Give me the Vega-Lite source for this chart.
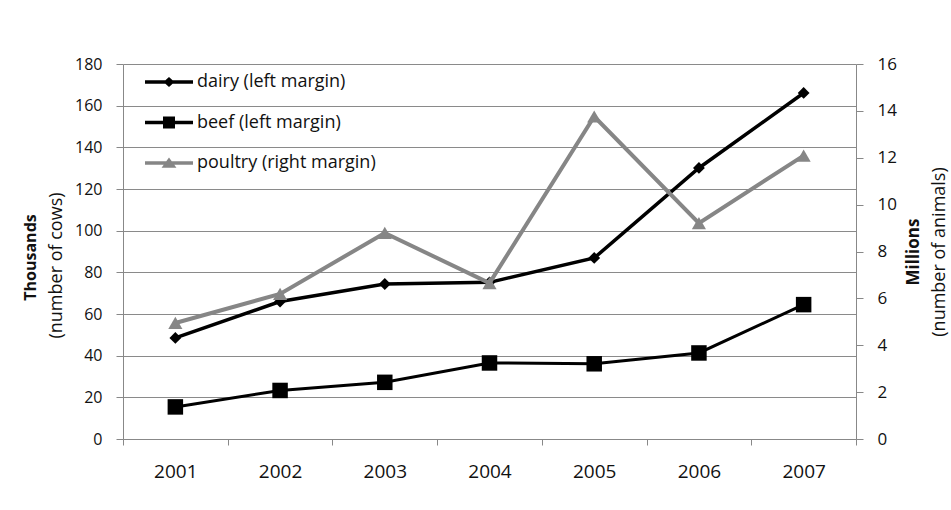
{
  "$schema": "https://vega.github.io/schema/vega-lite/v6.json",
  "width": 733,
  "height": 375,
  "autosize": {"type": "none"},
  "padding": {"left": 123, "top": 64, "right": 95, "bottom": 71},
  "background": "white",
  "config": {"view": {"stroke": null}, "font": "Open Sans"},
  "data": {
    "values": [
      {"year": "2001", "series": "dairy", "value": 48.5},
      {"year": "2002", "series": "dairy", "value": 66},
      {"year": "2003", "series": "dairy", "value": 74.4},
      {"year": "2004", "series": "dairy", "value": 75.2},
      {"year": "2005", "series": "dairy", "value": 86.9},
      {"year": "2006", "series": "dairy", "value": 130.1},
      {"year": "2007", "series": "dairy", "value": 166.1},
      {"year": "2001", "series": "beef", "value": 15.4},
      {"year": "2002", "series": "beef", "value": 23.3},
      {"year": "2003", "series": "beef", "value": 27.2},
      {"year": "2004", "series": "beef", "value": 36.5},
      {"year": "2005", "series": "beef", "value": 36.1},
      {"year": "2006", "series": "beef", "value": 41.3},
      {"year": "2007", "series": "beef", "value": 64.5},
      {"year": "2001", "series": "poultry", "value": 4.95},
      {"year": "2002", "series": "poultry", "value": 6.19},
      {"year": "2003", "series": "poultry", "value": 8.79},
      {"year": "2004", "series": "poultry", "value": 6.65},
      {"year": "2005", "series": "poultry", "value": 13.76},
      {"year": "2006", "series": "poultry", "value": 9.21},
      {"year": "2007", "series": "poultry", "value": 12.09}
    ]
  },
  "encoding": {
    "x": {
      "field": "year",
      "type": "ordinal",
      "scale": {"type": "band", "paddingInner": 0, "paddingOuter": 0},
      "axis": {
        "title": null,
        "tickBand": "extent",
        "grid": false,
        "labelAngle": 0,
        "domainColor": "#888888",
        "tickColor": "#888888",
        "tickSize": 6,
        "labelFontSize": 19,
        "labelColor": "#111111",
        "labelPadding": 17,
        "labelFont": "Open Sans"
      }
    }
  },
  "layer": [
    {
      "encoding": {
        "y": {
          "field": "value",
          "type": "quantitative",
          "scale": {"domain": [0, 180], "nice": false, "zero": true},
          "axis": {
            "orient": "left",
            "values": [0, 20, 40, 60, 80, 100, 120, 140, 160, 180],
            "grid": true,
            "gridColor": "#8a8a8a",
            "gridWidth": 1,
            "domainColor": "#888888",
            "tickColor": "#888888",
            "tickSize": 7,
            "labelFontSize": 16,
            "labelColor": "#111111",
            "labelPadding": 14,
            "title": "(number of cows)",
            "titleFontSize": 18,
            "titleFontWeight": "normal",
            "titleColor": "#111111",
            "titleAngle": 270,
            "titleAlign": "center",
            "titleBaseline": "middle",
            "titleX": -66.7,
            "titleY": 201
          }
        }
      },
      "layer": [
        {
          "transform": [{"filter": "datum.series === 'dairy'"}],
          "mark": {"type": "line", "color": "#000000", "strokeWidth": 3.5}
        },
        {
          "transform": [{"filter": "datum.series === 'dairy'"}],
          "mark": {"type": "point", "shape": "diamond", "filled": true, "color": "#000000", "opacity": 1, "size": 140}
        },
        {
          "transform": [{"filter": "datum.series === 'beef'"}],
          "mark": {"type": "line", "color": "#000000", "strokeWidth": 3}
        },
        {
          "transform": [{"filter": "datum.series === 'beef'"}],
          "mark": {"type": "point", "shape": "square", "filled": true, "color": "#000000", "opacity": 1, "size": 240}
        }
      ]
    },
    {
      "transform": [{"filter": "datum.series === 'poultry'"}],
      "encoding": {
        "y": {
          "field": "value",
          "type": "quantitative",
          "scale": {"domain": [0, 16], "nice": false, "zero": true},
          "axis": {
            "orient": "right",
            "values": [0, 2, 4, 6, 8, 10, 12, 14, 16],
            "grid": false,
            "domainColor": "#888888",
            "tickColor": "#888888",
            "tickSize": 7,
            "labelFontSize": 17,
            "labelColor": "#111111",
            "labelPadding": 14,
            "title": "Millions",
            "titleFontSize": 17,
            "titleFontWeight": "bold",
            "titleColor": "#111111",
            "titleAngle": 270,
            "titleAlign": "center",
            "titleBaseline": "middle",
            "titleX": 57,
            "titleY": 187.5
          }
        }
      },
      "layer": [
        {"mark": {"type": "line", "color": "#868686", "strokeWidth": 4}},
        {"mark": {"type": "point", "shape": "triangle-up", "filled": true, "color": "#868686", "opacity": 1, "size": 200}}
      ]
    },
    {
      "data": {"values": []},
      "mark": {"type": "point", "filled": true, "opacity": 1, "size": 576},
      "encoding": {
        "y": {
          "field": "value",
          "type": "quantitative",
          "scale": {"domain": [0, 180], "nice": false},
          "axis": {
            "orient": "left",
            "grid": false,
            "labels": false,
            "ticks": false,
            "domain": false,
            "title": "Thousands",
            "titleFontSize": 16,
            "titleFontWeight": "bold",
            "titleColor": "#111111",
            "titleAngle": 270,
            "titleAlign": "center",
            "titleBaseline": "middle",
            "titleX": -92.7,
            "titleY": 193
          }
        },
        "color": {
          "field": "series",
          "type": "nominal",
          "scale": {
            "domain": ["dairy (left margin)", "beef (left margin)", "poultry (right margin)"],
            "range": ["#000000", "#000000", "#868686"]
          },
          "legend": {
            "title": null,
            "orient": "none",
            "legendX": 34,
            "legendY": 6,
            "symbolSize": 576,
            "symbolStrokeWidth": 0,
            "labelFontSize": 18,
            "labelFont": "Open Sans",
            "labelColor": "#111111",
            "labelOffset": 16,
            "labelLimit": 0,
            "rowPadding": 19.5,
            "padding": 0
          }
        },
        "shape": {
          "field": "series",
          "type": "nominal",
          "scale": {
            "domain": ["dairy (left margin)", "beef (left margin)", "poultry (right margin)"],
            "range": [
              "M-2,-0.15H2V0.15H-2ZM0,-0.42L0.46,0L0,0.42L-0.46,0Z",
              "M-2,-0.15H2V0.15H-2ZM-0.5,-0.5H0.5V0.5H-0.5Z",
              "M-2,-0.15H2V0.15H-2ZM0,-0.45L0.62,0.4H-0.62Z"
            ]
          },
          "legend": {
            "title": null,
            "orient": "none",
            "legendX": 34,
            "legendY": 6,
            "symbolSize": 576,
            "symbolStrokeWidth": 0,
            "labelFontSize": 18,
            "labelFont": "Open Sans",
            "labelColor": "#111111",
            "labelOffset": 16,
            "labelLimit": 0,
            "rowPadding": 19.5,
            "padding": 0
          }
        }
      }
    },
    {
      "data": {"values": []},
      "mark": {"type": "point", "opacity": 0},
      "encoding": {
        "y": {
          "field": "value",
          "type": "quantitative",
          "scale": {"domain": [0, 16], "nice": false},
          "axis": {
            "orient": "right",
            "grid": false,
            "labels": false,
            "ticks": false,
            "domain": false,
            "title": "(number of animals)",
            "titleFontSize": 18,
            "titleFontWeight": "normal",
            "titleColor": "#111111",
            "titleAngle": 270,
            "titleAlign": "center",
            "titleBaseline": "middle",
            "titleX": 83,
            "titleY": 187.5
          }
        }
      }
    }
  ],
  "resolve": {"scale": {"y": "independent"}}
}
